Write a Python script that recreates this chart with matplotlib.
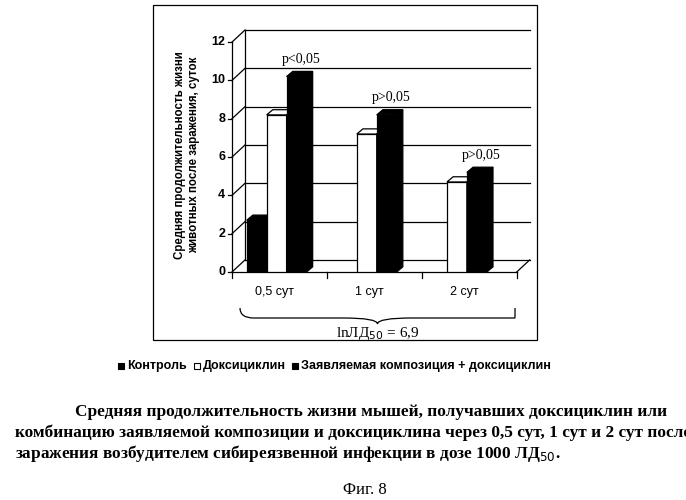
import matplotlib
matplotlib.use('Agg')
import matplotlib.pyplot as plt
from matplotlib.patches import Polygon, Rectangle
from matplotlib.path import Path
from matplotlib.patches import PathPatch

categories = ['0,5 сут', '1 сут', '2 сут']
control = [2.7, None, None]
doxy = [8.2, 7.2, 4.7]
combo = [10.2, 8.2, 5.2]
p_labels = ['p<0,05', 'p>0,05', 'p>0,05']
yticks = [0, 2, 4, 6, 8, 10, 12]
legend_labels = ['Контроль', 'Доксициклин', 'Заявляемая композиция + доксициклин']

W, H = 686, 500
fig = plt.figure(figsize=(6.86, 5.0), dpi=100)

# outer frame around the chart
fig.patches.append(Rectangle((153 / W, 1 - 340 / H), 384 / W, 335 / H,
                             transform=fig.transFigure, fill=False, lw=0.9, ec='black'))

ax = fig.add_axes([232 / W, 1 - 272 / H, 298 / W, 242 / H])
ax.set_xlim(0, 3.14)
ax.set_ylim(0, 12.63)
ax.set_axis_off()

wdx, wdy = 0.137, 0.63   # depth of the back wall
bdx, bdy = 0.065, 0.27   # depth of bars
bw = 0.21
lw = 0.9

# back wall gridlines + slanted left edges
for t in yticks:
    ax.plot([wdx, 3 + wdx], [t + wdy, t + wdy], color='black', lw=lw, clip_on=False)
    ax.plot([0, wdx], [t, t + wdy], color='black', lw=lw, clip_on=False)
    ax.plot([-0.04, 0], [t, t], color='black', lw=lw, clip_on=False)
    ax.text(-0.07, t, str(t), ha='right', va='center', fontsize=9,
            fontfamily='Liberation Sans', fontweight='bold')
ax.plot([wdx, wdx], [wdy, 12 + wdy], color='black', lw=lw, clip_on=False)
ax.plot([0, 0], [0, 12], color='black', lw=lw, clip_on=False)
# floor
ax.plot([0, 3], [0, 0], color='black', lw=lw, clip_on=False)
ax.plot([3, 3 + wdx], [0, wdy], color='black', lw=lw, clip_on=False)
for i in range(4):
    ax.plot([i, i], [0, -0.3], color='black', lw=lw, clip_on=False)


def bar3d(xc, h, face):
    x0, x1 = xc - bw / 2, xc + bw / 2
    ax.add_patch(Polygon([(x0, 0), (x1, 0), (x1, h), (x0, h)], closed=True,
                         fc=face, ec='black', lw=lw, zorder=3))
    ax.add_patch(Polygon([(x0, h), (x1, h), (x1 + bdx, h + bdy), (x0 + bdx, h + bdy)],
                         closed=True, fc=face, ec='black', lw=lw, zorder=3))
    ax.add_patch(Polygon([(x1, 0), (x1 + bdx, bdy), (x1 + bdx, h + bdy), (x1, h)],
                         closed=True, fc=face, ec='black', lw=lw, zorder=3))


for i, cat in enumerate(categories):
    c = 0.47 + 0.95 * i
    if control[i] is not None:
        bar3d(c - bw, control[i], 'black')
    bar3d(c, doxy[i], 'white')
    bar3d(c + bw, combo[i], 'black')
    ax.text(c + bw + 0.05, combo[i] + 0.55, p_labels[i], ha='center', va='bottom',
            fontsize=10, fontfamily='Liberation Serif')
    ax.text(i + 0.45, -0.75, cat, ha='center', va='top', fontsize=9,
            fontfamily='Liberation Sans')

# y label
fig.text(187 / W, 1 - 155 / H, 'Средняя продолжительность жизни\nживотных после заражения, суток',
         rotation=90, ha='center', va='center', fontsize=8.3,
         fontfamily='Liberation Sans', fontweight='bold', linespacing=1.25)

# curly brace under categories
x0, x1, yb, yt, ym = 240 / W, 515 / W, 1 - 318 / H, 1 - 308 / H, (240 + 515) / 2 / W
verts = [(x0, yt), (x0, yb), (x0 + 0.02, yb), (x0 + 0.05, yb),
         (ym - 0.05, yb), (ym, yb), (ym, yb - 0.012),
         (ym, yb), (ym + 0.05, yb), (x1 - 0.05, yb),
         (x1 - 0.02, yb), (x1, yb), (x1, yt)]
codes = [Path.MOVETO, Path.CURVE3, Path.CURVE3, Path.LINETO,
         Path.LINETO, Path.CURVE3, Path.CURVE3,
         Path.CURVE3, Path.CURVE3, Path.LINETO,
         Path.CURVE3, Path.CURVE3, Path.LINETO]
fig.patches.append(PathPatch(Path(verts, codes), transform=fig.transFigure,
                             fill=False, lw=0.9, ec='black'))
fig.text(ym, 1 - 333 / H, 'lnЛД$_{50}$ = 6,9', ha='center', va='center',
         fontsize=11, fontfamily='Liberation Serif')

# legend
ly = 1 - 366 / H
items = [(118, 'black', legend_labels[0]), (194, 'white', legend_labels[1]),
         (292, 'black', legend_labels[2])]
for x, fc, lab in items:
    fig.patches.append(Rectangle((x / W, ly - 3 / H), 6 / W, 6 / H, transform=fig.transFigure,
                                 fc=fc, ec='black', lw=0.8))
    fig.text((x + 9) / W, ly, lab, ha='left', va='center', fontsize=9,
             fontfamily='Liberation Sans', fontweight='bold')

# caption
cap = dict(fontsize=12.4, fontfamily='Liberation Serif', fontweight='bold', va='center')
fig.text(75 / W, 1 - 412 / H, 'Средняя продолжительность жизни мышей, получавших доксициклин или', **cap)
fig.text(15 / W, 1 - 433 / H, 'комбинацию заявляемой композиции и доксициклина через 0,5 сут, 1 сут и 2 сут после', **cap)
fig.text(15 / W, 1 - 454 / H, 'заражения возбудителем сибиреязвенной инфекции в дозе 1000 ЛД$_{50}$.', **cap)
fig.text(365 / W, 1 - 490 / H, 'Фиг. 8', ha='center', fontsize=12, fontfamily='Liberation Serif', va='center')

fig.savefig('out.png', dpi=100)
